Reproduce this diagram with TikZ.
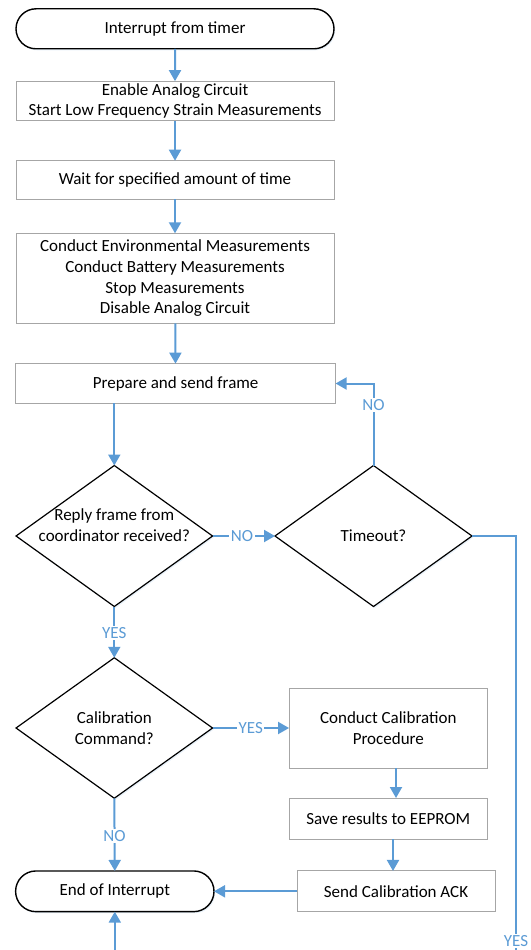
\documentclass[tikz,border=0pt]{standalone}
\usepackage{fontspec}
\setmainfont{Carlito}
\usetikzlibrary{shapes.geometric,shapes.misc,arrows.meta,shadows}
\definecolor{flowblue}{HTML}{5B9BD5}
\definecolor{boxgray}{HTML}{A6A6A6}
\tikzset{
  base/.style={font=\fontsize{17}{20.7}\selectfont, align=center, inner sep=0pt, outer sep=0pt},
  proc/.style={base, rectangle, draw=boxgray, line width=1pt, fill=white},
  term/.style={base, rounded rectangle, draw=black, line width=1.4pt, fill=white,
    drop shadow={shadow xshift=1.2pt, shadow yshift=-1.5pt, fill=flowblue!40, opacity=0.35}},
  dec/.style={diamond, inner sep=0pt, outer sep=0pt, draw=black, line width=1.2pt, fill=white,
    drop shadow={shadow xshift=1.2pt, shadow yshift=-1.5pt, fill=flowblue!40, opacity=0.35}},
  dectext/.style={base},
  conn/.style={draw=flowblue, line width=2pt, -{Triangle[width=12pt,length=11pt]}},
  line/.style={draw=flowblue, line width=2pt},
  lab/.style={font=\fontsize{17}{18}\selectfont, text=flowblue, fill=white, inner sep=1.5pt}
}
\begin{document}
\begin{tikzpicture}[x=1pt,y=-1pt]
\path[use as bounding box] (0,0) rectangle (530,950);
\clip (0,0) rectangle (530,950);
% nodes
\node[term, minimum width=318pt, minimum height=40pt] (start) at (175,28.8) {Interrupt from timer};
\node[proc, minimum width=318pt, minimum height=39.7pt] (b1) at (175,101) {Enable Analog Circuit\\Start Low Frequency Strain Measurements};
\node[proc, minimum width=318pt, minimum height=38.6pt] (b2) at (175,180) {Wait for specified amount of time};
\node[proc, minimum width=318pt, minimum height=90pt] (b3) at (175,278.3) {Conduct Environmental Measurements\\Conduct Battery Measurements\\Stop Measurements\\Disable Analog Circuit};
\node[proc, minimum width=320pt, minimum height=39.7pt] (b4) at (175.6,383.5) {Prepare and send frame};
\node[dec, minimum width=196.5pt, minimum height=141pt] (d1) at (114.3,536) {};
\node[dectext] (d1t) at (114.3,525.5) {Reply frame from\\coordinator received?};
\node[dec, minimum width=197pt, minimum height=141pt] (d2) at (373.5,536) {};
\node[dectext] (d2t) at (d2) {Timeout?};
\node[dec, minimum width=196.5pt, minimum height=140.5pt] (d3) at (114.3,728) {};
\node[dectext] (d3t) at (d3) {Calibration\\Command?};
\node[proc, minimum width=198.5pt, minimum height=80pt] (b5) at (388.3,728) {Conduct Calibration\\Procedure};
\node[proc, minimum width=198.5pt, minimum height=41pt] (b6) at (388.3,818.5) {Save results to EEPROM};
\node[proc, minimum width=198pt, minimum height=40.7pt] (b7) at (396,891.3) {Send Calibration ACK};
\node[term, minimum width=198.4pt, minimum height=40.7pt] (end) at (114.8,891.3) {End of Interrupt};
% off-picture coordinates
\coordinate (offR) at (516,1010);
\coordinate (offL) at (114.8,1010);
\coordinate (yr) at (516,536);
\coordinate (nup) at (373.5,383.5);
% connectors
\draw[conn] (start) -- (b1);
\draw[conn] (b1) -- (b2);
\draw[conn] (b2) -- (b3);
\draw[conn] (b3) -- (b4);
\draw[conn] (d1 |- b4.south) -- (d1.north);
\draw[conn] (d1.east) -- node[lab, pos=0.47]{NO} (d2.west);
\draw[conn] (d2.north) -- node[lab, pos=0.74]{NO} (nup) -- (b4.east);
\draw[line] (d2.east) -- (yr) -- (offR);
\node[lab] (yeslab) at (516,941) {YES};
\draw[conn] (d1.south) -- node[lab, pos=0.52]{YES} (d3.north);
\draw[conn] (d3.east) -- node[lab, pos=0.5]{YES} (b5.west);
\draw[conn] ([xshift=7.7pt]b5.south) -- ([xshift=7.7pt]b5.south |- b6.north);
\draw[conn] ([xshift=4.7pt]b6.south) -- ([xshift=4.7pt]b6.south |- b7.north);
\draw[conn] (b7.west) -- (end.east);
\draw[conn] (d3.south) -- node[lab, pos=0.52]{NO} (end.north);
\draw[conn] (offL) -- (end.south);
\end{tikzpicture}
\end{document}
